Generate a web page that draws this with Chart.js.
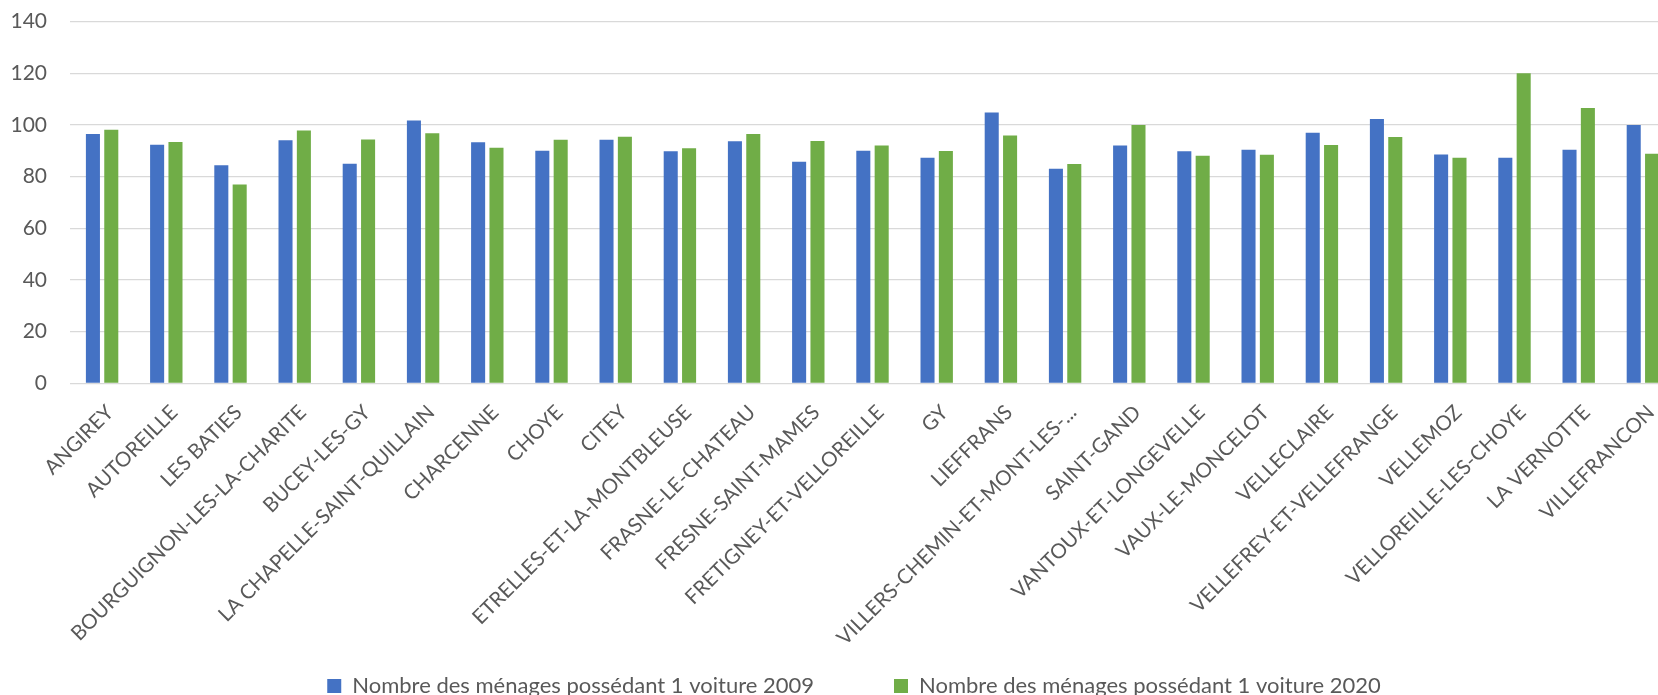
<!DOCTYPE html>
<html><head><meta charset="utf-8">
<script src="https://cdn.jsdelivr.net/npm/chart.js@4.4.0/dist/chart.umd.min.js"></script>
<style>
html,body{margin:0;padding:0;background:#fff;overflow:hidden;width:1658px;height:695px;}
#wrap{position:relative;width:1675px;height:758px;}
</style></head><body>
<div id="wrap"><canvas id="c" width="1675" height="758"></canvas></div>
<script>
const categories = [
  "ANGIREY","AUTOREILLE","LES BATIES","BOURGUIGNON-LES-LA-CHARITE","BUCEY-LES-GY",
  "LA CHAPELLE-SAINT-QUILLAIN","CHARCENNE","CHOYE","CITEY","ETRELLES-ET-LA-MONTBLEUSE",
  "FRASNE-LE-CHATEAU","FRESNE-SAINT-MAMES","FRETIGNEY-ET-VELLOREILLE","GY","LIEFFRANS",
  "VILLERS-CHEMIN-ET-MONT-LES-...","SAINT-GAND","VANTOUX-ET-LONGEVELLE","VAUX-LE-MONCELOT","VELLECLAIRE",
  "VELLEFREY-ET-VELLEFRANGE","VELLEMOZ","VELLOREILLE-LES-CHOYE","LA VERNOTTE","VILLEFRANCON"
];
const menages2009 = [96.5,92.4,84.4,94.1,85.0,101.7,93.3,90.0,94.3,89.8,93.7,85.8,90.0,87.3,104.8,83.1,92.1,89.8,90.4,97.0,102.3,88.6,87.3,90.4,100.0];
const menages2020 = [98.2,93.4,77.0,97.9,94.4,96.8,91.2,94.3,95.5,91.0,96.5,93.8,92.1,89.9,95.9,84.9,100.0,88.1,88.5,92.3,95.4,87.3,120.0,106.6,88.9];
const seriesNames = ["Nombre des ménages possédant 1 voiture 2009","Nombre des ménages possédant 1 voiture 2020"];
const seriesColors = ["#4472C4","#70AD47"];
const yMin = 0, yMax = 140, yStep = 20;

const FONT = "Lato, 'Open Sans', sans-serif";
const TEXT = "#595959";
const CANVAS_H = 758, LEGEND_H = 112, PLOT_BOTTOM = 383.3;

const legendPlace = {
  id: 'legendPlace',
  afterLayout(chart) {
    const lg = chart.legend;
    if (!lg || !lg.lineWidths) return;
    const pad = lg.options.labels.padding;
    const span = lg.lineWidths[0] - pad;
    const natural = (lg.left + pad + lg.right - lg.lineWidths[0]) / 2;
    const dx = (854 - span / 2) - natural;
    lg.left += dx; lg.right += dx;
    const dy = 675 - (lg.top + pad);
    lg.top += dy; lg.bottom += dy;
  }
};

new Chart(document.getElementById('c'), {
  type: 'bar',
  data: {
    labels: categories,
    datasets: [
      { label: seriesNames[0], data: menages2009, backgroundColor: seriesColors[0], borderWidth: 0 },
      { label: seriesNames[1], data: menages2020, backgroundColor: seriesColors[1], borderWidth: 0 }
    ]
  },
  options: {
    responsive: false,
    animation: false,
    devicePixelRatio: 1,
    layout: { padding: { top: 21.7, left: 0, right: 0, bottom: 0 } },
    datasets: { bar: { categoryPercentage: 0.572, barPercentage: 0.765 } },
    plugins: {
      tooltip: { enabled: false },
      legend: {
        position: 'bottom',
        labels: { boxWidth: 14, boxHeight: 14, padding: 80, color: TEXT, font: { family: FONT, size: 22 } }
      }
    },
    scales: {
      x: {
        grid: { display: false },
        border: { display: false },
        ticks: { autoSkip: false, minRotation: 45, maxRotation: 45, padding: 9, labelOffset: 8, color: TEXT, font: { family: FONT, size: 20.5 } },
        afterFit(s) { s.height = CANVAS_H - LEGEND_H - PLOT_BOTTOM; s.paddingLeft = 0; s.paddingRight = 0; }
      },
      y: {
        min: yMin, max: yMax,
        grid: { color: '#D9D9D9', lineWidth: 1.3, drawTicks: false },
        border: { display: false },
        ticks: { stepSize: yStep, padding: 23, color: TEXT, font: { family: FONT, size: 21 } },
        afterFit(s) { s.width = 70; s.paddingTop = 0; s.paddingBottom = 0; }
      }
    }
  },
  plugins: [legendPlace]
});
</script>
</body></html>
